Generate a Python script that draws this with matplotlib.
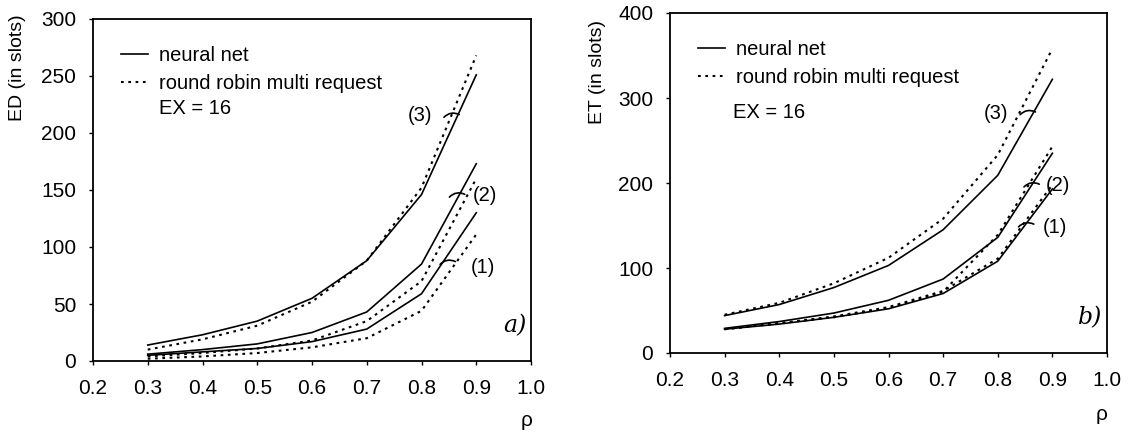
import matplotlib
matplotlib.use("Agg")
import matplotlib.pyplot as plt
from matplotlib.lines import Line2D

rho = [0.3, 0.4, 0.5, 0.6, 0.7, 0.8, 0.9]

# Panel a) ED (in slots)
ed_nn3 = [14, 23, 35, 55, 88, 146, 251]
ed_rr3 = [10, 19, 31, 52, 88, 152, 268]
ed_nn2 = [6, 10, 15, 25, 43, 85, 173]
ed_rr2 = [4, 7, 11, 18, 35, 70, 160]
ed_nn1 = [5, 8, 11, 17, 28, 59, 130]
ed_rr1 = [2, 4, 7, 12, 20, 44, 111]

# Panel b) ET (in slots)
et_nn3 = [44, 57, 77, 103, 145, 209, 322]
et_rr3 = [45, 59, 82, 112, 158, 233, 358]
et_nn2 = [29, 37, 47, 62, 87, 136, 235]
et_rr2 = [28, 35, 42, 53, 72, 139, 243]
et_nn1 = [28, 34, 42, 52, 70, 108, 193]
et_rr1 = [28, 35, 43, 54, 73, 111, 198]

xticks = [0.2, 0.3, 0.4, 0.5, 0.6, 0.7, 0.8, 0.9, 1.0]
xticklabels = ["0.2", "0.3", "0.4", "0.5", "0.6", "0.7", "0.8", "0.9", "1.0"]
ed_yticks = [0, 50, 100, 150, 200, 250, 300]
et_yticks = [0, 100, 200, 300, 400]

# annotation anchors: (bracket x, bracket y, label x, label y, label, ha)
ed_marks = [(0.855, 215, 0.82, 215, "(3)", "right"),
            (0.865, 145, 0.893, 145, "(2)", "left"),
            (0.848, 86, 0.89, 82, "(1)", "left")]
et_marks = [(0.855, 282, 0.82, 282, "(3)", "right"),
            (0.862, 197, 0.888, 197, "(2)", "left"),
            (0.852, 150, 0.882, 148, "(1)", "left")]

plt.rcParams['font.family'] = ['Liberation Sans', 'DejaVu Sans']
W, H = 1130, 433
fig = plt.figure(figsize=(W / 100, H / 100), dpi=100)

ax1 = fig.add_axes([93 / W, 1 - 361 / H, (531 - 93) / W, (361 - 19) / H])
ax2 = fig.add_axes([670 / W, 1 - 353 / H, (1107 - 670) / W, (353 - 13) / H])

dot = (0, (1.3, 2.2))
lw_s = 1.2
lw_d = 1.5

def panel(ax, nn, rr, ymax, yticks, tag, marks, yspan):
    for s in nn:
        ax.plot(rho, s, color='black', lw=lw_s, solid_joinstyle='miter')
    for s in rr:
        ax.plot(rho, s, color='black', lw=lw_d, linestyle=dot)
    ax.set_xlim(0.2, 1.0)
    ax.set_ylim(0, ymax)
    ax.set_xticks(xticks)
    ax.set_xticklabels(xticklabels)
    ax.set_yticks(yticks)
    ax.tick_params(direction='out', length=3, width=1, labelsize=15, pad=10)
    ax.tick_params(axis='y', pad=9)
    for sp in ax.spines.values():
        sp.set_linewidth(1.3)
    ax.text(0.99, 0.07, tag, transform=ax.transAxes, ha='right', va='bottom',
            fontsize=17, style='italic', family='DejaVu Serif')
    handles = [Line2D([], [], color='black', lw=lw_s),
               Line2D([], [], color='black', lw=lw_d, linestyle=dot)]
    labels = ["neural net", "round robin multi request"]
    ax.legend(handles, labels, loc='upper left', bbox_to_anchor=(0.045, 0.945),
              frameon=False, fontsize=14.5, handlelength=1.35, handletextpad=0.55,
              labelspacing=0.45, borderaxespad=0)
    for bx, by, lx, ly, lab, ha in marks:
        ax.annotate("", xy=(bx + 0.014, by + yspan * 0.004),
                    xytext=(bx - 0.014, by - yspan * 0.004),
                    arrowprops=dict(arrowstyle='-', lw=1.2, color='black',
                                    connectionstyle='arc3,rad=-0.35',
                                    shrinkA=0, shrinkB=0))
        ax.text(lx, ly, lab, ha=ha, va='center', fontsize=14.5)

panel(ax1, [ed_nn3, ed_nn2, ed_nn1], [ed_rr3, ed_rr2, ed_rr1], 300, ed_yticks,
      "a)", ed_marks, 300)
panel(ax2, [et_nn3, et_nn2, et_nn1], [et_rr3, et_rr2, et_rr1], 400, et_yticks,
      "b)", et_marks, 400)

ax1.text(159 / W, 1 - 108 / H, "EX = 16", transform=fig.transFigure,
         ha='left', va='center', fontsize=14.5)
ax2.text(733 / W, 1 - 112 / H, "EX = 16", transform=fig.transFigure,
         ha='left', va='center', fontsize=14.5)

fig.text(18 / W, 1 - 68 / H, "ED (in slots)", rotation=90, ha='center', va='center', fontsize=14)
fig.text(598 / W, 1 - 72 / H, "ET (in slots)", rotation=90, ha='center', va='center', fontsize=14)
fig.text(527 / W, 1 - 420 / H, "ρ", ha='center', va='center', fontsize=15)
fig.text(1102 / W, 1 - 415 / H, "ρ", ha='center', va='center', fontsize=15)

fig.savefig("out.png", dpi=100)
